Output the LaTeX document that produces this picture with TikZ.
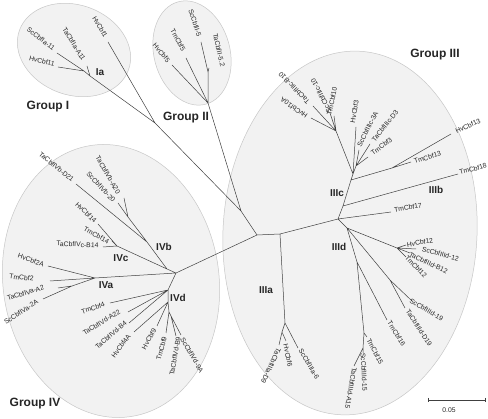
\documentclass[tikz,border=0pt]{standalone}
\usepackage{fontspec}
\setmainfont{Liberation Sans}
\begin{document}
\begin{tikzpicture}[x=1pt,y=-1pt,
  br/.style={draw=black!75, line width=0.5pt},
  lab/.style={font=\fontsize{6.8}{8}\selectfont, text=black!85, inner sep=0pt},
  sub/.style={font=\fontsize{10}{12}\selectfont\bfseries, text=black!85, inner sep=0pt},
  grp/.style={font=\fontsize{12}{14}\selectfont\bfseries, text=black!85, inner sep=0pt},
  clade/.style={fill=black!5, draw=black!22, line width=0.5pt}]
\useasboundingbox (0,0) rectangle (488,419);
\fill[white] (0,0) rectangle (488,419);
% clade ellipses
\draw[clade, rotate around={-20:(74,50)}] (74,50) ellipse [x radius=58pt, y radius=45pt];
\draw[clade, rotate around={15:(192,53)}] (192,53) ellipse [x radius=38pt, y radius=53pt];
\draw[clade, rotate around={-3:(350,233)}] (350,233) ellipse [x radius=127pt, y radius=182pt];
\draw[clade, rotate around={8:(111,281)}] (111,281) ellipse [x radius=108pt, y radius=137pt];
% ---------- coordinates
\coordinate (C) at (257,235);
\coordinate (X) at (241,211);
\coordinate (G1) at (155,123);
\coordinate (G2) at (208,103);
\coordinate (Ia0) at (90,76);
\coordinate (Ia1) at (84,71);
\coordinate (hv1) at (108,42);
\coordinate (taA11) at (87,66);
\coordinate (sc11) at (57,53);
\coordinate (hv11) at (58,67);
\coordinate (b1) at (208,72);
\coordinate (hv5) at (172,65);
\coordinate (tm5) at (186,58);
\coordinate (sc5) at (201,42);
\coordinate (ta52) at (209,68);
% group IV
\coordinate (R4) at (176,273);
\coordinate (IVbc) at (167,269);
\coordinate (IVb) at (147,242);
\coordinate (IVb2) at (128,217);
\coordinate (taD21) at (76,184);
\coordinate (taA20) at (124,198);
\coordinate (sc20) at (118,203);
\coordinate (IVc) at (117,246);
\coordinate (hv14) at (98,224);
\coordinate (tm14) at (112,241);
\coordinate (taB14) at (103,247);
\coordinate (IVa) at (95,278);
\coordinate (IVa2) at (72,286);
\coordinate (hv2A) at (48,266);
\coordinate (tm2) at (50,281);
\coordinate (taA2) at (58,288);
\coordinate (sc2A) at (43,299);
\coordinate (d1) at (168,290);
\coordinate (d2) at (168,302);
\coordinate (d3) at (169,312);
\coordinate (d4) at (171,316);
\coordinate (tm4) at (110,303);
\coordinate (taA22) at (128,312);
\coordinate (taB4) at (129,323);
\coordinate (hv4A) at (134,332);
\coordinate (hv9) at (157,326);
\coordinate (tm9) at (166,333);
\coordinate (taB9) at (176,336);
\coordinate (sc9A) at (181,335);
% group III
\coordinate (J) at (280,234);
\coordinate (K) at (338,219);
\coordinate (M) at (343,206);
\coordinate (L) at (351,180);
\coordinate (P) at (353,174);
\coordinate (N) at (392,168);
\coordinate (Q) at (336,131);
\coordinate (R) at (356,166);
\coordinate (hv10A) at (311,118);
\coordinate (taB10) at (313,106);
\coordinate (sc10) at (330,113);
\coordinate (tm10) at (334,116);
\coordinate (hv3) at (356,127);
\coordinate (sc3A) at (359,150);
\coordinate (taD3) at (370,144);
\coordinate (tm3) at (368,157);
\coordinate (hv13) at (451,134);
\coordinate (tm13) at (411,162);
\coordinate (tm18) at (458,174);
\coordinate (tm17) at (391,212);
\coordinate (S) at (347,228);
\coordinate (T) at (397,248);
\coordinate (hv12) at (406,245);
\coordinate (sc12) at (416,249);
\coordinate (taB12) at (410,253);
\coordinate (tm12) at (406,257);
\coordinate (U) at (390,280);
\coordinate (sc19) at (412,301);
\coordinate (taD19) at (405,308);
\coordinate (W) at (357,262);
\coordinate (tm16) at (387,320);
\coordinate (V) at (364,333);
\coordinate (tm15) at (367,337);
\coordinate (X15) at (363,348);
\coordinate (sc15) at (363,353);
\coordinate (taA15) at (354,366);
\coordinate (A) at (285,323);
\coordinate (A2) at (282,332);
\coordinate (taD9) at (279,345);
\coordinate (hv6) at (286,341);
\coordinate (sc6) at (298,348);
% ---------- branches
\draw[br] (C) -- (X) (X) -- (G1) (X) -- (G2);
\draw[br] (G1) -- (Ia0) (G1) -- (hv1) (Ia0) -- (Ia1) (Ia0) -- (taA11) (Ia1) -- (sc11) (Ia1) -- (hv11);
\draw[br] (G2) -- (b1) (G2) -- (hv5) (G2) -- (tm5) (b1) -- (sc5) (b1) -- (ta52);
\draw[br] (C) -- (R4) (R4) -- (IVbc) (R4) -- (IVa) (R4) -- (d1);
\draw[br] (IVbc) -- (IVb) (IVbc) -- (IVc) (IVb) -- (taD21) (IVb) -- (IVb2) (IVb2) -- (taA20) (IVb2) -- (sc20);
\draw[br] (IVc) -- (hv14) (IVc) -- (tm14) (IVc) -- (taB14);
\draw[br] (IVa) -- (hv2A) (IVa) -- (tm2) (IVa) -- (IVa2) (IVa2) -- (taA2) (IVa2) -- (sc2A);
\draw[br] (d1) -- (tm4) (d1) -- (taA22) (d1) -- (taB4) (d1) -- (d2) (d2) -- (hv4A) (d2) -- (hv9) (d2) -- (d3) (d3) -- (tm9) (d3) -- (d4) (d4) -- (taB9) (d4) -- (sc9A);
\draw[br] (C) -- (J) (J) -- (A) (J) -- (K) (A) -- (A2) (A) -- (sc6) (A2) -- (taD9) (A2) -- (hv6);
\draw[br] (K) -- (tm17) (K) -- (M) (K) -- (S) (M) -- (tm18) (M) -- (L) (L) -- (N) (L) -- (P) (N) -- (hv13) (N) -- (tm13);
\draw[br] (P) -- (Q) (P) -- (R) (P) -- (hv3) (Q) -- (hv10A) (Q) -- (taB10) (Q) -- (sc10) (Q) -- (tm10) (R) -- (sc3A) (R) -- (taD3) (R) -- (tm3);
\draw[br] (S) -- (T) (S) -- (U) (S) -- (W) (T) -- (hv12) (T) -- (sc12) (T) -- (taB12) (T) -- (tm12) (U) -- (sc19) (U) -- (taD19);
\draw[br] (W) -- (tm16) (W) -- (V) (V) -- (tm15) (V) -- (X15) (X15) -- (sc15) (X15) -- (taA15);
% ---------- leaf labels
\node[lab, rotate=-59] (lhv1) at (100,27) {HvCbf1};
\node[lab, rotate=-58] (ltaA11) at (74,44) {TaCbfIa-A11};
\node[lab, rotate=-38] (lsc11) at (41,39) {ScCbfIa-11};
\node[lab, rotate=-14] (lhv11) at (42,61) {HvCbf11};
\node[lab, rotate=-50] (lhv5) at (161.5,53) {HvCbf5};
\node[lab, rotate=-61] (ltm5) at (178,40) {TmCbf5};
\node[lab, rotate=-72] (lsc5) at (195,23) {ScCbfII-5};
\node[lab, rotate=-77] (lta52) at (219,50) {TaCbfII-5.2};
\node[lab, rotate=-39] (ltaD21) at (56.5,167) {TaCbfIVb-D21};
\node[lab, rotate=-60] (ltaA20) at (108,175) {TaCbfIVb-A20};
\node[lab, rotate=-47] (lsc20) at (101,187) {ScCbfIVb-20};
\node[lab, rotate=-44] (lhv14) at (86,212.5) {HvCbf14};
\node[lab, rotate=-29] (ltm14) at (96.5,235.5) {TmCbf14};
\node[lab, rotate=-3] (ltaB14) at (77.5,244.5) {TaCbfIVc-B14};
\node[lab, rotate=-19] (lhv2A) at (31,260) {HvCbf2A};
\node[lab, rotate=-6] (ltm2) at (21.5,277.5) {TmCbf2};
\node[lab, rotate=17] (ltaA2) at (25.5,293) {TaCbfIVa-A2};
\node[lab, rotate=33] (lsc2A) at (21,312) {ScCbfIVa-2A};
\node[lab, rotate=19] (ltm4) at (93,308) {TmCbf4};
\node[lab, rotate=32] (ltaA22) at (101.5,322.5) {TaCbfIVd-A22};
\node[lab, rotate=40] (ltaB4) at (111,335) {TaCbfIVd-B4};
\node[lab, rotate=54] (lhv4A) at (121,346) {HvCbf4A};
\node[lab, rotate=61] (lhv9) at (149,339) {HvCbf9};
\node[lab, rotate=75] (ltm9) at (161.5,348.5) {TmCbf9};
\node[lab, rotate=80] (ltaB9) at (175,356) {TaCbfIVd-B9};
\node[lab, rotate=-60] (lsc9A) at (192,355) {ScCbfIVd-9A};
\node[lab, rotate=134] (ltaB10) at (294,88) {TaCbfIIIc-B10};
\node[lab, rotate=145] (lhv10A) at (294,108) {HvCbf10A};
\node[lab, rotate=117] (lsc10) at (321,95.5) {ScCbfIIIc-10};
\node[lab, rotate=78] (ltm10) at (332,101) {TmCbf10};
\node[lab, rotate=80] (lhv3) at (354.5,111.5) {HvCbf3};
\node[lab, rotate=63] (lsc3A) at (367.5,129) {ScCbfIIIc-3A};
\node[lab, rotate=51] (ltaD3) at (385,126) {TaCbfIIIc-D3};
\node[lab, rotate=36] (ltm3) at (381.5,146.5) {TmCbf3};
\node[lab, rotate=24] (lhv13) at (468,126) {HvCbf13};
\node[lab, rotate=17] (ltm13) at (427.5,157.5) {TmCbf13};
\node[lab, rotate=15] (ltm18) at (473,169) {TmCbf18};
\node[lab, rotate=9] (ltm17) at (408,207.5) {TmCbf17};
\node[lab, rotate=10] (lhv12) at (420,242.5) {HvCbf12};
\node[lab, rotate=-15] (lsc12) at (440.5,254) {ScCbfIIId-12};
\node[lab, rotate=-25] (ltaB12) at (428.5,263) {TaCbfIIId-B12};
\node[lab, rotate=-46] (ltm12) at (416,266.5) {TmCbf12};
\node[lab, rotate=-31] (lsc19) at (426.5,310) {ScCbfIIId-19};
\node[lab, rotate=-57] (ltaD19) at (419,328) {TaCbfIIId-D19};
\node[lab, rotate=-58] (ltm16) at (396.5,333.5) {TmCbf16};
\node[lab, rotate=-62] (ltm15) at (375,351.5) {TmCbf15};
\node[lab, rotate=-87] (lsc15) at (364,372) {ScCbfIIId-15};
\node[lab, rotate=-100] (ltaA15) at (351,388) {TaCbfIIId-A15};
\node[lab, rotate=-78] (lhv6) at (288,355.5) {HvCbf6};
\node[lab, rotate=-115] (ltaD9) at (271,366) {TaCbfIIIa-D9};
\node[lab, rotate=-60] (lsc6) at (309,364) {ScCbfIIIa-6};
% ---------- subgroup and group labels
\node[sub] (sIa) at (100,72) {Ia};
\node[sub] (sIVb) at (164,247) {IVb};
\node[sub] (sIVc) at (121,258) {IVc};
\node[sub] (sIVa) at (106,285) {IVa};
\node[sub] (sIVd) at (178,298) {IVd};
\node[sub] (sIIIa) at (266,290) {IIIa};
\node[sub] (sIIIb) at (436,190) {IIIb};
\node[sub] (sIIIc) at (337,193) {IIIc};
\node[sub] (sIIId) at (339,247) {IIId};
\node[grp] (gI) at (48,107) {Group I};
\node[grp] (gII) at (186,118) {Group II};
\node[grp] (gIII) at (435,55) {Group III};
\node[grp] (gIV) at (35,404) {Group IV};
% ---------- scale bar
\coordinate (sb1) at (428,400);
\coordinate (sb2) at (485,400);
\draw[br] (sb1) -- (sb2);
\draw[br] ([yshift=2pt]sb1) -- ([yshift=-2pt]sb1) ([yshift=2pt]sb2) -- ([yshift=-2pt]sb2);
\node[lab] (sbl) at (449,410) {0.05};
\end{tikzpicture}
\end{document}
